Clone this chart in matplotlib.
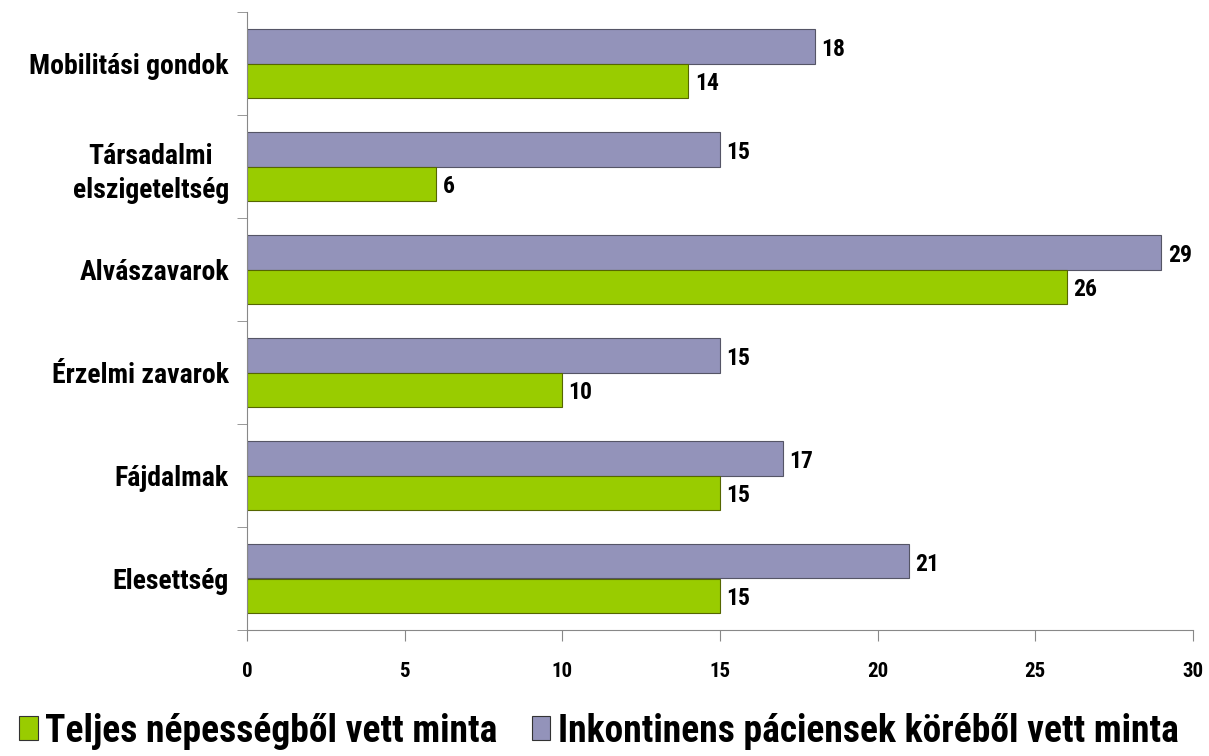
import numpy as np
import matplotlib
matplotlib.use('Agg')
import matplotlib.pyplot as plt
from matplotlib.patches import Patch

categories = ['Mobilitási gondok', 'Társadalmi\nelszigeteltség', 'Alvászavarok',
              'Érzelmi zavarok', 'Fájdalmak', 'Elesettség']
teljes = [14, 6, 26, 10, 15, 15]
inkontinens = [18, 15, 29, 15, 17, 21]
series_names = ['Teljes népességből vett minta', 'Inkontinens páciensek köréből vett minta']

plt.rcParams['font.family'] = ['Roboto Condensed', 'DejaVu Sans']
plt.rcParams['font.weight'] = 'bold'

green = '#99CC00'
purple = '#9393BA'

fig = plt.figure(figsize=(12.09, 7.56), dpi=100)
ax = fig.add_axes([247 / 1209, 1 - 630 / 756, (1193 - 247) / 1209, (630 - 12) / 756])

y = np.arange(len(categories))
h = 0.335
ax.barh(y - h / 2, inkontinens, height=h, color=purple, edgecolor='#555566', linewidth=0.8)
ax.barh(y + h / 2, teljes, height=h, color=green, edgecolor='#556600', linewidth=0.8)

# value labels right of each bar
for yi, v in zip(y, inkontinens):
    ax.text(v + 0.2, yi - h / 2 + 0.03, str(v), va='center', ha='left', fontsize=17, fontweight='bold')
for yi, v in zip(y, teljes):
    ax.text(v + 0.2, yi + h / 2 + 0.03, str(v), va='center', ha='left', fontsize=17, fontweight='bold')

ax.set_xlim(0, 30)
ax.set_ylim(len(categories) - 0.5, -0.5)
ax.set_xticks(np.arange(0, 31, 5))
ax.set_xticklabels([str(t) for t in range(0, 31, 5)], fontsize=15, fontweight='bold')
ax.set_yticks(y)
ax.set_yticklabels(categories, fontsize=20, fontweight='bold', linespacing=1.35,
                   multialignment='center')
ax.tick_params(axis='y', length=0, pad=13)
ax.set_yticks(np.arange(-0.5, len(categories), 1), minor=True)
ax.tick_params(axis='y', which='minor', length=7, color='#888888', direction='out')
ax.tick_params(axis='x', length=8, color='#888888', direction='out', pad=15)

for s in ['top', 'right']:
    ax.spines[s].set_visible(False)
for s in ['left', 'bottom']:
    ax.spines[s].set_color('#888888')

handles = [Patch(facecolor=green, edgecolor='#333333', linewidth=0.8),
           Patch(facecolor=purple, edgecolor='#333333', linewidth=0.8)]
fig.legend(handles, series_names, loc='center left', bbox_to_anchor=(-0.012, 1 - 731 / 756),
           ncol=2, frameon=False, prop={'size': 27, 'weight': 'bold'},
           handlelength=0.5, handleheight=0.6, handletextpad=0.2, columnspacing=0.9)

fig.savefig('out.png', dpi=100)
